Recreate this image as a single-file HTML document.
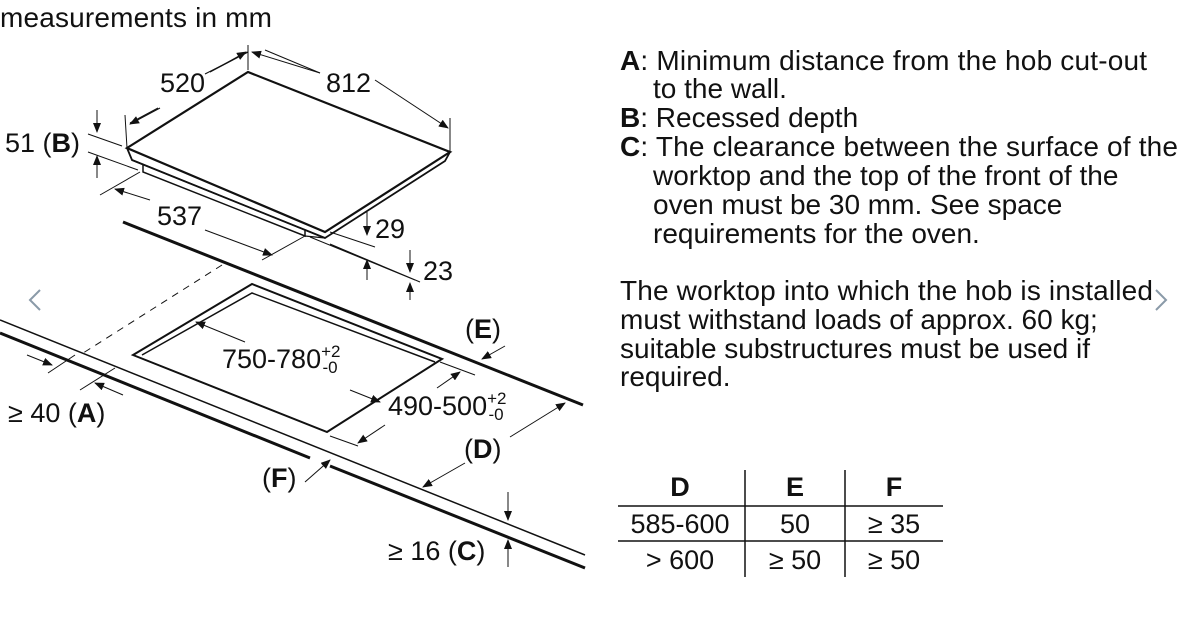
<!DOCTYPE html>
<html><head><meta charset="utf-8"><style>
html,body{margin:0;padding:0;background:#fff;}
svg{display:block;font-family:"Liberation Sans",sans-serif;}
text{fill:#111;}
</style></head><body>
<svg width="1187" height="634" viewBox="0 0 1187 634" xmlns="http://www.w3.org/2000/svg">
<defs>
<marker id="ah" markerWidth="10" markerHeight="8" refX="9" refY="4" orient="auto" markerUnits="userSpaceOnUse"><path d="M0,0 L10,4 L0,8 z" fill="#111"/></marker>
</defs>
<g stroke="#111" fill="none">
<path d="M127,148 L248,72 L450,152 L325,232 Z" stroke-width="2.2" fill="#fff"/>
<path d="M127,148 L132,160 L325,238 L445,161 L450,152" stroke-width="1.8"/>
<path d="M132,160 L325,238" stroke-width="1.5"/>
<path d="M143,165 L143,172 L305,236 L305,230" stroke-width="1.5"/>
<path d="M305,236 L325,238" stroke-width="1.2"/>
<path d="M123,222 L583,405" stroke-width="3"/>
<path d="M0,320 L585,555" stroke-width="1.5"/>
<path d="M0,333 L310,458 M330,466 L585,568" stroke-width="3"/>
<path d="M133,355 L252,284 L442,359 L327,432 Z" stroke-width="2"/>
<path d="M142,355 L252,293 L435,362" stroke-width="1.5"/>
<path d="M222,265 L80,355" stroke-width="1" stroke-dasharray="7,6"/>
<g stroke-width="1">
<path d="M248,70 L248,45 M450,152 L450,118 M127,148 L125,115"/>
<path d="M205,74 L248,52" /><path d="M265,50 L320,73"/><path d="M375,80 L448,128" marker-end="url(#ah)"/>
<path d="M248,52 L210,72" /><path d="M130,123 L158,108"/>
<path d="M160,108 L130,124" marker-end="url(#ah)"/>
<path d="M210,72 L246,52" marker-end="url(#ah)"/>
<path d="M320,73 L252,52" marker-end="url(#ah)"/>
<path d="M88,134 L122,146 M88,152 L138,170"/>
<path d="M97,110 L97,132" marker-end="url(#ah)"/>
<path d="M97,178 L97,156" marker-end="url(#ah)"/>
<path d="M100,195 L140,172 M262,260 L305,236"/>
<path d="M150,200 L115,189" marker-end="url(#ah)"/>
<path d="M205,230 L272,255" marker-end="url(#ah)"/>
<path d="M330,232 L375,247 M310,237 L415,280 M330,244 L420,282"/>
<path d="M367,212 L367,235" marker-end="url(#ah)"/>
<path d="M367,280 L367,260" marker-end="url(#ah)"/>
<path d="M410,250 L410,272" marker-end="url(#ah)"/>
<path d="M410,300 L410,283" marker-end="url(#ah)"/>
<path d="M245,342 L196,322" marker-end="url(#ah)"/>
<path d="M350,390 L380,402" marker-end="url(#ah)"/>
<path d="M440,362 L475,375 M330,436 L358,446"/>
<path d="M437,388 L460,372" marker-end="url(#ah)"/>
<path d="M385,425 L358,443" marker-end="url(#ah)"/>
<path d="M505,346 L482,359" marker-end="url(#ah)"/>
<path d="M510,437 L565,403" marker-end="url(#ah)"/>
<path d="M465,463 L423,487" marker-end="url(#ah)"/>
<path d="M305,482 L330,460" marker-end="url(#ah)"/>
<path d="M27,355 L52,365" marker-end="url(#ah)"/>
<path d="M48,373 L75,355 M80,390 L115,368"/>
<path d="M123,395 L95,383" marker-end="url(#ah)"/>
<path d="M508,492 L508,520" marker-end="url(#ah)"/>
<path d="M508,567 L508,540" marker-end="url(#ah)"/>
</g>
<path d="M40,290 L30,300 L40,310" stroke="#8a9aa8" stroke-width="2"/>
<path d="M1156,290 L1166,300 L1156,310" stroke="#8a9aa8" stroke-width="2"/>
<path d="M618,506 L943,506 M618,541 L943,541 M745,470 L745,577 M845,470 L845,577" stroke-width="1.5"/>
</g>
<g font-size="27">
<text x="0" y="27" font-size="28" textLength="272">measurements in mm</text>
<text x="160" y="92">520</text>
<text x="326" y="92">812</text>
<text x="5" y="152">51 (<tspan font-weight="bold">B</tspan>)</text>
<text x="157" y="225">537</text>
<text x="375" y="238">29</text>
<text x="423" y="280">23</text>
<text x="465" y="338">(<tspan font-weight="bold">E</tspan>)</text>
<text x="222" y="368">750-780<tspan font-size="17" dy="-11">+2</tspan><tspan font-size="17" dx="-18" dy="16">-0</tspan></text>
<text x="388" y="415">490-500<tspan font-size="17" dy="-11">+2</tspan><tspan font-size="17" dx="-18" dy="16">-0</tspan></text>
<text x="464" y="458">(<tspan font-weight="bold">D</tspan>)</text>
<text x="262" y="487">(<tspan font-weight="bold">F</tspan>)</text>
<text x="8" y="422">≥ 40 (<tspan font-weight="bold">A</tspan>)</text>
<text x="388" y="560">≥ 16 (<tspan font-weight="bold">C</tspan>)</text>
</g>
<g font-size="28">
<text x="620" y="70" textLength="527"><tspan font-weight="bold">A</tspan>: Minimum distance from the hob cut-out</text>
<text x="653" y="98">to the wall.</text>
<text x="620" y="127"><tspan font-weight="bold">B</tspan>: Recessed depth</text>
<text x="620" y="156" textLength="558"><tspan font-weight="bold">C</tspan>: The clearance between the surface of the</text>
<text x="653" y="185">worktop and the top of the front of the</text>
<text x="653" y="214">oven must be 30 mm. See space</text>
<text x="653" y="243">requirements for the oven.</text>
<text x="620" y="300" textLength="533">The worktop into which the hob is installed</text>
<text x="620" y="329">must withstand loads of approx. 60 kg;</text>
<text x="620" y="358">suitable substructures must be used if</text>
<text x="620" y="386">required.</text>
</g>
<g font-size="27" text-anchor="middle">
<text x="680" y="496" font-weight="bold">D</text>
<text x="795" y="496" font-weight="bold">E</text>
<text x="894" y="496" font-weight="bold">F</text>
<text x="680" y="533">585-600</text>
<text x="795" y="533">50</text>
<text x="894" y="533">≥ 35</text>
<text x="680" y="569">&gt; 600</text>
<text x="795" y="569">≥ 50</text>
<text x="894" y="569">≥ 50</text>
</g>
</svg>
</body></html>
